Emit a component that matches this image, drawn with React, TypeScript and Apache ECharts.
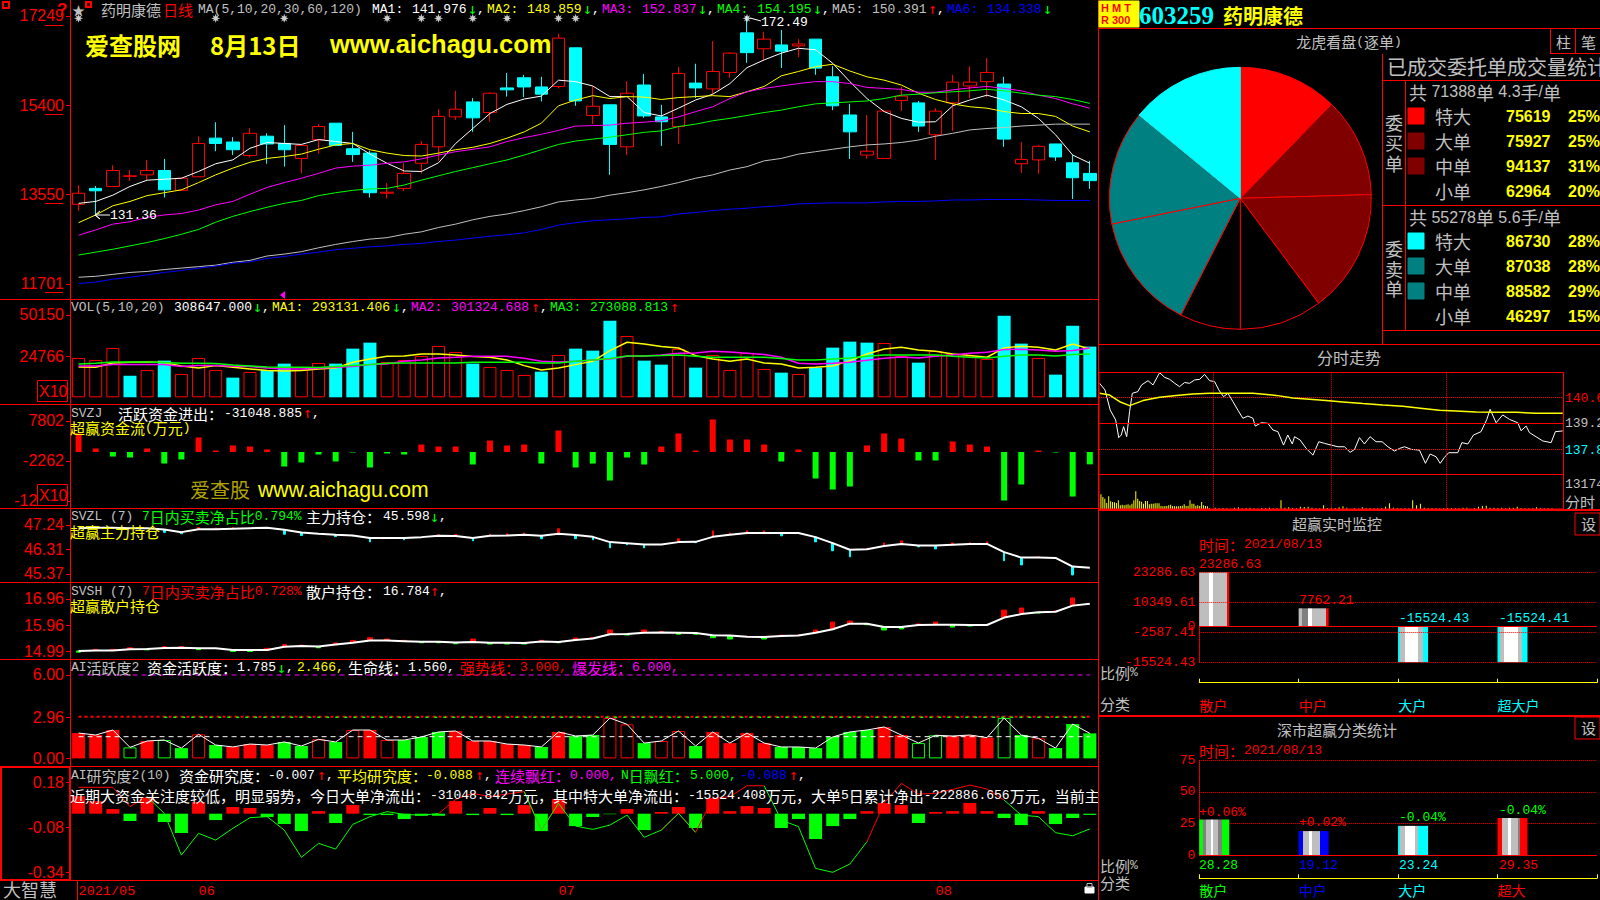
import React, { useEffect, useRef } from "react";
import * as echarts from "echarts";

const RED = "#ff0000", CYAN = "#00ffff", LIME = "#00ff00", YEL = "#ffff00", MAG = "#ff00ff", GRAY = "#c0c0c0", WHITE = "#ffffff", BLUE = "#0000ff";

const days = Array.from({ length: 60 }, (_, i) => String(i));
const monthAt: Record<number, string> = { 0: "2021/05", 7: "06", 28: "07", 50: "08" };

// open, close, low, high
const candles = [
  [133.5,135.8,132.1,137.5],[136.8,136.3,131.36,137.3],[137.2,140.5,137.2,141.6],[139.3,139.4,138.3,140.6],[139.6,140.5,138.4,142.7],
  [140.5,136.5,134.9,142.9],[136.4,138.9,136.4,138.9],[139.2,146.1,139.2,147.6],[147.2,146.1,144.5,150.5],[146.4,144.8,143.7,147.4],
  [143.6,148.2,143.2,149.3],[147.6,146,141.9,148.2],[146.1,144.8,141.3,149.9],[143,145.7,139.9,145.7],[146.9,149.6,144,150.1],
  [150.3,145.7,145.7,150.3],[145,143.8,142.3,148.5],[144.1,135.9,134.9,144.6],[135.8,136,134.7,137.9],[136.8,139.9,136.3,142],
  [142,145.9,139.9,146.6],[145.4,151.7,142.5,153.2],[151.6,153.2,151,157],[154.7,151.4,148.5,155.5],[152.5,156.5,150.6,156.7],
  [157.6,157.2,155.8,160.7],[159.7,157.8,155.7,160.3],[157.8,156.3,154.8,159.9],[157.9,167.9,157.5,168.8],[165.9,154.9,153.9,165.9],
  [151.9,153.8,150.1,158],[154.1,145.9,139.6,154.1],[145.4,156.5,143.7,159],[158.2,151.8,151.4,160.5],[151.6,150.6,145.6,154.1],
  [149.6,160.6,146,161.9],[158.6,157.6,155.5,162.6],[157.4,161,156.3,167.3],[160.8,164.8,159.7,165],[169,164.9,162.8,172.49],
  [165.7,167.7,163.4,169.2],[166.5,165.2,161.7,169.6],[166.3,166.7,164,167.7],[167.7,161.7,160.3,167.7],[159.9,153.9,153,162.1],
  [152,148.5,142.9,154.3],[143.7,144.5,142.9,152],[143,152.8,143,153],[155,155.9,152.8,157.8],[154.5,149.7,148.5,154.9],
  [147.9,152.8,142.7,153.4],[154.5,158.8,148.7,160.3],[158,158.8,155.5,162.1],[158.9,160.8,155.7,163.8],[158.4,147,145.4,159.9],
  [141.9,142.8,140,146.4],[142.7,145.5,139.8,145.8],[146,143.3,142.5,146],[142.1,139,134.6,143.7],[139.9,138.4,136.7,142.5],
];
const ma1 = [133.7,134.1,135.4,137.2,138.5,138.7,138.9,140.3,141.9,142.7,145.1,146.3,146.1,145.9,146.9,146.5,146.1,143.9,142,140.4,140.3,142.1,146.1,149.2,152.3,154.2,155.3,155.9,159.2,158.9,158,155.8,155.8,152.5,151.8,153.4,155.1,156.3,158.5,161.8,163.4,164.8,165.8,165.5,162.7,158.9,155.4,152.7,151.3,150.5,150.6,153.9,155.1,156.1,155.1,153.7,151.3,147.9,143.7,142];
const ma2 = [129.7,131.3,133.2,134.1,135.3,135.9,136.5,138,139.6,141,142.2,143,143.4,143.9,144.9,145.8,146.1,144.8,144.1,143.6,143.5,144.1,144.8,145.3,146.1,147.2,148.5,150.3,153.9,155.1,156,155.4,155.8,155.7,155.2,155.6,155.8,156,155.8,156.8,157.9,160.1,161,162,162.5,161.1,159.9,159.2,158.2,156.5,155.2,154.3,153.7,153.4,152.7,152.3,152.3,151.7,149.7,148.5];
const ma3 = [127.1,128.2,129.4,129.9,130.8,131.3,131.6,132.3,133.4,134.1,135.6,137,138,138.9,139.9,141,141.4,141.6,142,142.3,142.9,143.7,144.4,144.9,145.4,146.5,147.3,148,148.8,149.7,149.8,149.9,150.3,150.5,150.8,151.6,152.7,153.7,155.4,156.8,157.5,158,158.5,158.9,158.9,158.5,157.7,157.5,157.3,156.7,156.7,157.2,157.6,157.9,157.5,157,156.1,155.4,154.3,153.4];
const ma4 = [123,123.6,124.2,124.9,125.6,126.4,127.3,128.3,129.8,131,132,132.9,133.7,134.3,135.3,135.9,136.4,136.7,136.8,137.5,138.5,139.4,140.3,141.1,141.9,142.7,143.7,144.8,145.9,146.6,147,147.4,147.9,148.4,148.7,149.6,150.1,150.8,151.3,151.9,152.5,153,153.7,154.3,154.5,154.7,154.9,155.4,156.1,156.3,156.6,156.8,157,157.3,157,156.5,156.1,155.8,155.2,154.4];
const ma5 = [118.4,118.6,119,119.4,119.6,120,120.3,120.6,120.9,121.5,121.9,122.8,123.2,123.7,124.5,125.2,125.8,126.3,126.6,127.3,127.8,128.7,129.4,130.3,131,131.5,132.2,133,134,134.4,134.7,135.4,135.9,136.5,137.2,138,138.9,139.6,140.6,141.3,142.5,143,143.9,144.4,144.9,145.4,145.8,146,146.3,146.8,147.6,148.2,148.9,149.2,149.4,149.7,149.9,150.1,150.1,150.1];
const ma6 = [117.1,117.4,118,118.4,118.9,119.4,119.8,120.3,120.7,121.3,121.6,122.3,122.7,123.2,123.6,124.1,124.4,124.7,124.9,125.2,125.4,125.8,126.1,126.5,126.9,127.2,127.6,128.3,129.2,129.7,130.1,130.3,130.5,130.8,130.9,131.5,131.8,132.2,132.5,132.7,133,133.2,133.6,133.7,133.8,133.8,133.8,134,134.1,134.1,134.2,134.4,134.4,134.5,134.5,134.5,134.4,134.3,134.3,134.3];
const signalDays = [0, 8, 12, 18, 20, 21, 23, 25, 28, 29, 39];

const vol = [23942,22725,30029,13189,16638,22319,14203,23942,16638,11971,15420,16638,20493,16638,20899,20493,29623,33276,21507,22725,25160,31247,27594,20493,18464,16638,13594,15623,25768,29623,28406,46667,37334,22319,19884,29421,18058,25768,16638,26986,17247,15015,14203,18058,30232,33884,33276,33073,25160,21102,28203,26377,25160,23334,49711,32667,23942,13797,43624,30865];
const volKind = "rrrcrcrrrc" + "rccrrcccrr" + "rrrcrrrcrc" + "ccrccrcrrr" + "rcrccccrrc" + "rrrrccrccc";
const volMa1 = [18473,18270,20909,21315,21518,21112,19082,17864,19285,18270,17255,16240,16037,16240,17255,17864,21315,23345,24969,25172,26390,26390,25781,24766,24360,22736,19285,16646,17864,19894,21924,28420,33495,32480,30856,30044,25375,23345,21924,23345,20909,20300,17864,18270,19082,22330,26390,29435,30450,28826,28014,26390,25375,24360,30044,31059,30450,28826,32480,29435];
const volMa2 = [19082,19082,19894,19894,19894,19894,18676,19285,19285,18879,18676,17864,17255,17255,17661,18270,18676,19894,20300,21924,22736,23954,24360,24969,24969,24969,23751,21924,21518,21924,22736,23345,24969,25172,25781,26796,26999,28014,27608,26796,25984,24360,20706,20300,20706,21315,22533,23751,24563,23954,24969,25781,26796,27405,29029,29232,28826,28014,28420,30044];
const volMa3 = [20300,20706,21518,21518,21518,21112,20706,20706,20503,19691,19082,18473,18270,18270,18067,18676,19285,19894,20706,20909,20909,20909,20909,21315,21315,21315,21315,20909,20909,21924,22736,23548,25172,25172,25375,25781,24969,24360,24360,24360,24360,23548,22736,22736,23345,23954,24969,25781,25781,25781,25781,24969,24360,23954,24969,25781,25781,25172,25984,26390];

const flow = [4656,881,-1133,-1384,881,-2895,-1888,3650,378,1636,1384,629,-3650,-2643,-629,-2391,-126,-3901,-378,-629,1888,1384,1384,-3146,2895,1636,1888,-2895,5412,-3901,-2895,-7173,-1384,-3146,1384,4656,378,8180,3146,3146,1888,-2391,629,-6670,-9439,-8684,1636,4656,3398,-2139,-2139,2643,1888,1384,-12207,-8180,378,-126,-11201,-3105];

const svzl = [47.11,47.13,47.13,47.11,47.11,47.06,46.96,47.07,47.07,47.09,47.11,47.13,47.05,46.95,46.9,46.86,46.83,46.74,46.74,46.74,46.77,46.82,46.81,46.74,46.82,46.83,46.86,46.82,46.9,46.85,46.78,46.58,46.54,46.49,46.49,46.58,46.59,46.78,46.86,46.93,46.93,46.93,46.93,46.77,46.54,46.29,46.31,46.43,46.51,46.45,46.45,46.48,46.51,46.51,46.2,45.99,45.99,45.98,45.65,45.6];
const svzlTip = [null,null,null,null,null,46.95,46.9,47.14,47.11,47.13,null,null,46.88,46.83,null,46.79,46.81,46.59,46.76,46.67,null,46.86,46.87,46.63,46.88,46.9,46.93,46.71,47.09,46.71,46.67,46.36,46.48,46.36,null,46.71,46.56,47.01,46.93,47.01,47.01,46.82,null,46.59,46.25,46.02,46.35,46.55,46.63,46.4,46.32,46.55,46.56,46.59,45.87,45.71,46.02,null,45.33,null];
const svsh = [15,15.02,15.02,15.06,15.07,15.11,15.12,15.1,15.1,15.04,15.04,15.04,15.16,15.19,15.17,15.24,15.31,15.39,15.39,15.37,15.35,15.35,15.32,15.34,15.31,15.31,15.3,15.36,15.34,15.41,15.47,15.63,15.64,15.69,15.7,15.69,15.68,15.59,15.58,15.54,15.53,15.56,15.58,15.69,15.82,16.03,16.03,15.9,15.9,15.98,15.99,15.99,15.98,15.98,16.26,16.39,16.46,16.48,16.71,16.78];
const svshTip = [14.95,15.06,15.06,15.12,15.04,15.16,15.16,15.05,null,14.98,14.98,15.1,15.24,15.22,15.12,15.3,15.39,15.5,15.45,15.4,15.31,15.31,15.27,15.45,15.26,15.26,15.26,15.4,15.31,15.49,15.51,15.79,15.6,15.79,15.73,15.63,15.63,15.5,15.45,15.55,15.45,15.6,15.6,15.79,16.09,16.13,15.99,15.79,15.83,16.02,16.09,15.9,15.94,null,16.54,16.62,16.43,16.51,17,null];

const activity = [1.82,1.68,2.04,0.79,1.25,1.32,0.74,1.73,0.96,0.82,1.03,0.96,1.18,0.89,1.37,1.18,2.04,2.04,1.32,1.32,1.54,1.9,1.97,1.25,1.25,1.03,0.96,0.82,1.9,1.61,1.68,2.9,2.45,1.1,1.25,1.97,0.89,1.9,1.1,1.82,1.1,0.82,0.82,0.74,1.54,1.9,2.04,2.26,1.68,1.1,1.66,1.61,1.68,1.49,2.9,1.68,1.44,0.74,2.47,1.8];
const activityKind = "rrrGrGgRgr" + "rrggRgRrRg" + "ggrrrrrgrg" + "gRRgRRgrrr" + "rggggggrrG" + "GrrrGgRggg";

const research = [0.102,0.073,0.027,-0.043,0.091,-0.048,-0.112,0.068,-0.037,0.039,0.033,-0.019,-0.06,-0.101,0.015,-0.054,0.05,-0.008,-0.008,-0.031,-0.012,-0.012,0.073,-0.008,0.033,-0.008,0.05,-0.101,0.085,-0.072,-0.019,-0.003,0.027,-0.095,0.01,0.039,-0.083,0.091,0.015,0.044,0.033,-0.083,-0.031,-0.147,-0.072,-0.031,0.015,0.062,0.05,-0.054,0.01,0.015,0.062,0.015,-0.025,-0.066,0.015,-0.06,-0.025,-0.007];
const researchAvg = [0.153,0.153,0.153,0.041,0.099,0.002,-0.24,-0.114,-0.153,-0.085,-0.023,-0.017,-0.095,-0.253,-0.172,-0.205,-0.062,-0.017,0.012,-0.004,-0.008,0,0.083,0.118,0.099,0.114,0.128,-0.095,0.06,-0.072,-0.091,-0.066,-0.008,-0.137,-0.095,0.002,-0.108,0.089,0.099,0.162,0.162,-0.037,-0.075,-0.317,-0.34,-0.292,-0.162,0.06,0.176,0.114,0.118,0.141,0.166,0.143,0.079,-0.008,-0.017,-0.11,-0.128,-0.088];
// day ranges over which the average line is drawn red, and green
const researchRedRuns = [[0, 4], [21, 26], [27, 28], [34, 35], [36, 40], [46, 54]];
const researchGreenRuns = [[4, 21], [26, 27], [28, 34], [35, 36], [40, 46], [54, 59]];

const orderBuy = [75619, 75927, 94137, 62964];
const orderSell = [86730, 87038, 88582, 46297];
const orderPctBuy = ["25%", "25%", "31%", "20%"];
const orderPctSell = ["28%", "28%", "29%", "15%"];
const orderNames = ["特大", "大单", "中单", "小单"];

const timePrice = [[0.3,141.35],[3.1,140.99],[5.8,139.91],[8.6,139.38],[10.2,138.43],[11.5,138.57],[12.7,139.02],[14.3,138.48],[15.8,139.83],[17.2,140.81],[20,140.9],[22,141.26],[25.3,141.49],[27.9,141.26],[31.3,141.92],[33.9,141.67],[36.5,141.56],[39.1,141.35],[41.6,141.17],[44.2,141.39],[46.8,141.35],[49.4,141.53],[52,141.56],[54.5,141.83],[57.1,141.49],[59.7,141.44],[61.9,140.99],[64.3,140.63],[66.6,140.81],[69.2,140.36],[71.7,139.91],[74.3,139.47],[76.9,139.59],[79.5,139.47],[80.7,139.05],[83.8,139.23],[87.2,139.2],[89.8,138.84],[92.4,138.75],[95.3,138.03],[97.5,138.57],[99.8,138.09],[101,138.48],[103.9,138.3],[107,137.85],[110.5,137.49],[113.5,138.21],[116.5,138.12],[119.9,138.03],[123.4,137.94],[126.8,137.94],[129.7,137.64],[132,137.8],[134.5,138.43],[137.1,138.09],[140,138.48],[143.1,138.21],[146.2,138.21],[149.2,137.94],[152.6,137.71],[155.2,137.85],[157.8,137.94],[161.2,137.8],[165.5,137.76],[168.6,137.05],[171,137.55],[174.1,137.4],[176.2,137.05],[178.4,137.37],[180.6,137.62],[185.3,137.62],[187.4,138.16],[190.5,138.09],[193.4,138.57],[197.3,138.75],[200.3,139.41],[202,139.95],[205.1,139.23],[208.5,139.65],[212,139.41],[216.3,139.23],[218,138.8],[220.6,139.05],[222.3,138.7],[225.7,138.48],[229.2,138.25],[233.5,138.16],[235.7,138.75],[239.5,138.79]];
const timeAvg = [[0.3,140.81],[5.5,140.72],[10.7,140.36],[15.8,140.15],[22.7,140.42],[31.3,140.6],[39.9,140.69],[48.5,140.78],[57.1,140.81],[65.7,140.81],[79.5,140.81],[91.5,140.7],[100.1,140.56],[108.7,140.49],[117.3,140.42],[125.9,140.35],[136.3,140.26],[146.6,140.18],[156.9,140.11],[167.2,140],[175.8,139.9],[184.4,139.86],[194.8,139.81],[205.1,139.79],[215.4,139.79],[225.7,139.74],[239.5,139.74]];
const timeVolOpen = [7605,6253,5408,3211,6591,4056,3718,3549,3211,4563,2028,2366,2028,2366,2535,2028,2873,4563,9126,5408,4225,3887,2873,4225,4225,2535,2873,2873,3042,3042,3042,1690,1521,1690,1690,2028,2366,1690,1521,1521,1521,1690,1859,2535,1690,1859,4563,2873,2873,1859,2028,1690,3718,2028,1690,1521,676];
const timeVolLate = [845,507,676,507,338,845,1014,507,676,845,507,338,676,507,845,507,507,4563,845,1014,676,507,1352,1183,1352,845,507,507,2028,676,845,676,1014,1521,845,338,507,338,1014,507,676,507,507,676,1352,3042,845,507,507,507,507,4563,2028,2873,845,507,676,507,507,507,507,676,507,507,845,845,338,676,1352,1690,1859,845,845,676,845,507,845,845,1352,676,507,507,507,1014,507,507,507,507];

const monitorNames = ["散户", "中户", "大户", "超大户"];
const monitorVals = [23286.63, 7762.21, -15524.43, -15524.41];
const monitorTicks = [-15524.43, -2587.41, 0, 10349.61, 23286.63];
const statNames = ["散户", "中户", "大户", "超大"];
const statVals = [28.28, 19.12, 23.24, 29.35];
const statDelta = ["+0.06%", "+0.02%", "-0.04%", "-0.04%"];
const advice = "近期大资金关注度较低\uFF0C明显弱势\uFF0C今日大单净流出\uFF1A-31048.842万元\uFF0C其中特大单净流出\uFF1A-15524.408万元\uFF0C大单5日累计净出-222886.656万元\uFF0C当前主";

type TO = { cn?: number; mn?: number; mf?: string; cf?: string; bold?: boolean; align?: string };
const G: any[] = [];
function tx(x: number, y: number, s: string, color: string, o: TO = {}) {
  const cn = o.cn ?? 15, mn = o.mn ?? 13, mf = o.mf ?? "Liberation Mono", cf = o.cf ?? "Noto Sans CJK SC";
  const fw = o.bold ? "bold" : "normal";
  const runs = s.match(/[\x00-\x7f]+|[^\x00-\x7f]+/g) || [];
  const isM = (r: string) => /^[\x00-\x7f]/.test(r);
  let style: any;
  let px = x;
  if (s === "↓" || s === "↑") {
    style = { text: s, fill: color, fontFamily: "DejaVu Sans Mono", fontSize: 15 };
    px = x - 1;
  } else if (runs.length === 1) {
    style = { text: s, fill: color, fontFamily: isM(s) ? mf : cf, fontSize: isM(s) ? mn : cn, fontWeight: fw };
  } else {
    style = {
      text: runs.map((r) => `{${isM(r) ? "m" : "c"}|${r}}`).join(""),
      fill: color,
      rich: {
        m: { fontFamily: mf, fontSize: mn, fill: color, fontWeight: fw },
        c: { fontFamily: cf, fontSize: cn, fill: color, fontWeight: fw },
      },
    };
  }
  style.x = px; style.y = y; style.align = o.align ?? "left"; style.verticalAlign = "middle";
  G.push({ type: "text", z: 100, silent: true, style });
}
function ln(x1: number, y1: number, x2: number, y2: number, color = RED, w = 1, dash?: number[]) {
  G.push({ type: "line", z: 100, silent: true, shape: { x1, y1, x2, y2 }, style: { stroke: color, lineWidth: w, lineDash: dash } });
}
function box(x: number, y: number, w: number, h: number, stroke: any, fill: any = "transparent", lw = 1) {
  G.push({ type: "rect", z: 100, silent: true, shape: { x, y, width: w, height: h }, style: { stroke, fill, lineWidth: lw } });
}
const row = (y: number, items: [number, string, string][]) => items.forEach(([x, s, c]) => tx(x, y, s, c));

function stripes(list: [number, string][]) {
  const stops: any[] = [];
  let prev = 0;
  list.forEach(([end, color]) => {
    stops.push({ offset: prev, color }, { offset: end, color });
    prev = end;
  });
  return new echarts.graphic.LinearGradient(0, 0, 1, 0, stops);
}

function buildGraphics() {
  G.length = 0;
  // frame
  [299.5, 404.5, 508.5, 582.5, 659.5, 766.5, 880.5].forEach((y) => ln(0, y, 1098, y));
  ln(70.5, 0, 70.5, 880);
  ln(77.5, 880, 77.5, 900);
  box(1, 767, 69, 113, RED, "transparent", 2);
  [25.5, 114.5, 203.5, 292.5].forEach((y) => ln(45, y, 63, y));
  tx(3, 888.5, "大智慧", GRAY, { cn: 18 });
  // lock icon
  box(1085, 887, 9, 6, WHITE, WHITE);
  box(1087, 883.5, 5, 4, GRAY);

  // main header
  box(3, 2, 6, 6, RED, "transparent", 2);
  tx(57, 9, "?", RED, { mn: 17, mf: "Liberation Sans", bold: true });
  tx(72, 9, "★", GRAY, { cn: 13 });
  box(86, 2, 5, 5, RED, "#400000", 2);
  row(9, [
    [101, "药明康德", GRAY], [163, "日线", RED], [198, "MA(5,10,20,30,60,120)", GRAY],
    [372, "MA1:", WHITE], [412, "141.976", WHITE], [469, "↓", LIME], [477, ",", WHITE],
    [487, "MA2:", YEL], [527, "148.859", YEL], [584, "↓", LIME], [592, ",", WHITE],
    [602, "MA3:", MAG], [642, "152.837", MAG], [699, "↓", LIME], [707, ",", WHITE],
    [717, "MA4:", LIME], [757, "154.195", LIME], [814, "↓", LIME], [822, ",", WHITE],
    [832, "MA5:", GRAY], [872, "150.391", GRAY], [929, "↑", RED], [937, ",", WHITE],
    [947, "MA6:", BLUE], [987, "134.338", BLUE], [1044, "↓", LIME],
  ]);
  const big = { cn: 24, mn: 24, mf: "Noto Sans CJK SC", bold: true };
  tx(85, 44, "爱查股网", YEL, big);
  tx(210, 44, "8月13日", YEL, big);
  tx(330, 44, "www.aichagu.com", YEL, { ...big, mn: 25.5, mf: "Liberation Sans" });
  // high / low tags
  G.push({ type: "polyline", z: 100, silent: true, shape: { points: [[100, 211], [95, 215], [100, 219], [95, 215], [110, 215]] }, style: { stroke: WHITE, fill: "none", lineWidth: 1 } });
  tx(110, 215, "131.36", WHITE);
  G.push({ type: "polyline", z: 100, silent: true, shape: { points: [[750, 18], [761, 21]] }, style: { stroke: WHITE, fill: "none", lineWidth: 1 } });
  tx(761, 22, "172.49", WHITE);
  G.push({ type: "polygon", z: 100, silent: true, shape: { points: [[280, 295], [285, 291], [285, 299]] }, style: { fill: MAG } });

  // vol header
  row(307, [
    [71, "VOL(5,10,20)", GRAY], [174, "308647.000", WHITE], [254, "↓", LIME], [262, ",", WHITE],
    [272, "MA1:", YEL], [312, "293131.406", YEL], [393, "↓", LIME], [401, ",", WHITE],
    [411, "MA2:", MAG], [451, "301324.688", MAG], [532, "↑", RED], [540, ",", WHITE],
    [550, "MA3:", LIME], [590, "273088.813", LIME], [671, "↑", RED],
  ]);
  box(37.5, 380.5, 30, 21, RED, "#000");
  tx(39, 391, "X10", RED, { mn: 16, mf: "Liberation Sans" });
  box(37.5, 484.5, 30, 21, RED, "#000");
  tx(39, 495, "X10", RED, { mn: 16, mf: "Liberation Sans" });

  row(413, [[71, "SVZJ", GRAY], [118, "活跃资金进出\uFF1A", WHITE], [224, "-31048.885", WHITE], [304, "↑", RED], [312, ",", WHITE]]);
  tx(70, 427, "超赢资金流(万元)", YEL);
  tx(190, 489, "爱查股", "#b0a000", { cn: 20 });
  tx(258, 489, "www.aichagu.com", YEL, { mn: 21.2, mf: "Liberation Sans" });

  row(516.5, [[71, "SVZL (7)", GRAY], [142, "7日内买卖净占比0.794%", LIME], [306, "主力持仓\uFF1A", WHITE], [383, "45.598", WHITE], [431, "↓", LIME], [439, ",", WHITE]]);
  tx(70, 531, "超赢主力持仓", YEL);
  row(591, [[71, "SVSH (7)", GRAY], [142, "7日内买卖净占比0.728%", RED], [306, "散户持仓\uFF1A", WHITE], [383, "16.784", WHITE], [431, "↑", RED], [439, ",", WHITE]]);
  tx(70, 605.5, "超赢散户持仓", YEL);

  row(667.5, [
    [71, "AI活跃度2", GRAY], [147, "资金活跃度\uFF1A", WHITE], [237, "1.785", WHITE], [278, "↓", LIME], [286, ",", WHITE],
    [297, "2.466,", YEL], [348, "生命线\uFF1A", WHITE], [408, "1.560,", WHITE], [460, "强势线\uFF1A", RED], [520, "3.000,", RED],
    [572, "爆发线\uFF1A", MAG], [632, "6.000,", MAG],
  ]);
  row(775, [
    [71, "AI研究度2(10)", GRAY], [179, "资金研究度\uFF1A", WHITE], [268, "-0.007", WHITE], [318, "↑", RED], [326, ",", WHITE],
    [337, "平均研究度\uFF1A", YEL], [426, "-0.088", YEL], [476, "↑", RED], [484, ",", WHITE],
    [495, "连续飘红\uFF1A", MAG], [570, "0.000,", MAG], [621, "N日飘红\uFF1A", LIME], [690, "5.000,", LIME],
    [740, "-0.088", BLUE], [790, "↑", RED], [798, ",", WHITE],
  ]);
  tx(70, 795, advice, WHITE);
  // right panel covers the overflow of the long message
  G.push({ type: "rect", z: 100, silent: true, shape: { x: 1099, y: 786, width: 40, height: 18 }, style: { fill: "#000" } });
  ln(1098.5, 0, 1098.5, 900);
  tx(1100, 865, "比例%", GRAY);

  // title block
  box(1099, 1, 40, 26, YEL, YEL);
  tx(1101, 8, "H M T", RED, { mn: 11, mf: "Liberation Sans", bold: true });
  tx(1101, 20, "R 300", RED, { mn: 11, mf: "Liberation Sans", bold: true });
  tx(1139, 15, "603259", CYAN, { mn: 25, mf: "Liberation Serif", bold: true });
  tx(1223, 15, "药明康德", YEL, { cn: 20, bold: true });
  ln(1098, 28.5, 1600, 28.5);
  tx(1349, 41, "龙虎看盘(逐单)", GRAY, { align: "center" });
  ln(1550.5, 28, 1550.5, 53); ln(1575.5, 28, 1575.5, 53); ln(1550, 53.5, 1600, 53.5);
  tx(1556, 41, "柱", GRAY); tx(1581, 41, "笔", GRAY);

  // order table
  ln(1382.5, 54, 1382.5, 344);
  ln(1383, 80.5, 1600, 80.5); ln(1383, 205.5, 1600, 205.5); ln(1383, 330.5, 1600, 330.5);
  ln(1405.5, 80, 1405.5, 330);
  ln(1098, 344.5, 1600, 344.5);
  tx(1387, 66, "已成交委托单成交量统计", GRAY, { cn: 20 });
  const tableFont = { cn: 18, mn: 16, mf: "Liberation Sans" };
  tx(1409, 91.5, "共 71388单 4.3手/单", GRAY, tableFont);
  tx(1409, 217, "共 55278单 5.6手/单", GRAY, tableFont);
  [["委", 122], ["买", 142], ["单", 163], ["委", 248], ["卖", 269], ["单", 288]].forEach(([c, y]) => tx(1394, y as number, c as string, GRAY, { cn: 18, align: "center" }));
  const swatch = [[RED, "#800000", "#800000"], [CYAN, "#008080", "#008080"]];
  const rowsY = [[116, 141, 166, 191], [241, 266, 291, 316]];
  [orderBuy, orderSell].forEach((vals, g) => {
    vals.forEach((v, i) => {
      const y = rowsY[g][i];
      if (i < 3) box(1408, y - 8, 16, 16, swatch[g][i], swatch[g][i]);
      tx(1435, y, orderNames[i], GRAY, { cn: 18 });
      tx(1506, y, String(v), YEL, { mn: 16, mf: "Liberation Sans", bold: true });
      tx(1568, y, (g ? orderPctSell : orderPctBuy)[i], YEL, { mn: 16, mf: "Liberation Sans", bold: true });
    });
  });

  // intraday
  tx(1349, 357, "分时走势", GRAY, { align: "center", cn: 16 });
  box(1099, 372.5, 464.5, 136.5, RED);
  ln(1099, 474.5, 1564, 474.5);
  tx(1565, 398, "140.6", RED); tx(1565, 423, "139.2", GRAY); tx(1565, 450, "137.8", CYAN);
  tx(1565, 484, "13174", GRAY); tx(1565, 501, "分时", GRAY);
  ln(1098, 510, 1600, 510, RED, 2);

  // monitor
  tx(1337, 523, "超赢实时监控", GRAY, { align: "center" });
  tx(1199, 544, "时间\uFF1A2021/08/13", RED);
  box(1575, 513, 25, 22, RED); tx(1581, 523, "设", GRAY);
  tx(1199, 564, "23286.63", RED); tx(1299, 600, "7762.21", RED);
  tx(1399, 618, "-15524.43", CYAN); tx(1499, 618, "-15524.41", CYAN);
  tx(1100, 672, "比例%", GRAY); tx(1100, 703, "分类", GRAY);
  ln(1098, 716, 1600, 716, RED, 2);

  // stats
  tx(1337, 729, "深市超赢分类统计", GRAY, { align: "center" });
  tx(1199, 750, "时间\uFF1A2021/08/13", RED);
  box(1575, 717, 25, 22, RED); tx(1581, 727, "设", GRAY);
  const statLabelY = [812, 822.5, 817.5, 810];
  const statCol = [LIME, BLUE, CYAN, RED];
  statVals.forEach((v, i) => {
    tx(1199 + 100 * i, statLabelY[i], statDelta[i], i < 2 ? RED : LIME);
    tx(1199 + 100 * i, 865, v.toFixed(2), statCol[i]);
  });
  tx(1100, 882, "分类", GRAY);
  return G.slice();
}

function yAxis(gridIndex: number, min: number, max: number, vals: number[], fmt: (v: number) => string) {
  return {
    type: "value", gridIndex, min, max, position: "left",
    axisLine: { show: true, onZero: false, lineStyle: { color: RED } },
    axisTick: { show: true, length: 4, customValues: vals, lineStyle: { color: RED } },
    axisLabel: { show: true, customValues: vals, formatter: fmt, margin: 6, color: RED, fontFamily: "Liberation Sans", fontSize: 16, hideOverlap: false },
    splitLine: { show: false },
  };
}
const line = (name: string, xAxisIndex: number, data: any[], color: string, width = 1, extra: any = {}) => ({
  name, type: "line", xAxisIndex, yAxisIndex: xAxisIndex, data, symbol: "none", silent: true, z: 3,
  lineStyle: { color, width, ...(extra.lineStyle || {}) }, connectNulls: false,
});
const tipSeries = (idx: number, base: number[], tips: (number | null)[], width: number, up: string, down: string) => ({
  type: "candlestick", xAxisIndex: idx, yAxisIndex: idx, barWidth: width, silent: true, z: 2,
  data: base.map((v, i) => {
    const t = tips[i];
    return t == null ? ["-", "-", "-", "-"] : [v, t, Math.min(v, t), Math.max(v, t)];
  }),
  itemStyle: { color: up, color0: down, borderColor: up, borderColor0: down, borderWidth: 1 },
});
const inRuns = (runs: number[][]) => researchAvg.map((v, i) => (runs.some(([a, b]) => i >= a && i <= b) ? v : null));

export default function App() {
  const ref = useRef<HTMLDivElement>(null);
  useEffect(() => {
    document.body.style.margin = "0";
    document.body.style.background = "#000";
    const chart = echarts.init(ref.current!, undefined, { renderer: "svg" });

    const grids = [
      { top: 0, h: 299 }, { top: 299, h: 105.5 }, { top: 404.5, h: 104 }, { top: 508.5, h: 73.8 },
      { top: 582.3, h: 77.4 }, { top: 659.7, h: 107 }, { top: 766.7, h: 113.3 },
    ].map((g) => ({ left: 70, width: 1028.4, top: g.top, height: g.h }));
    grids.push(
      { left: 1099, width: 464.7, top: 372.3, height: 102 },
      { left: 1099, width: 464.7, top: 474.3, height: 35 },
      { left: 1199.3, width: 400.7, top: 572.3, height: 90 },
      { left: 1199.3, width: 400.7, top: 760.3, height: 95 },
    );

    const xAxes: any[] = grids.slice(0, 7).map((_, i) => ({
      type: "category", gridIndex: i, data: days, show: i === 6, boundaryGap: true,
      axisLine: { show: false }, axisTick: { show: false }, splitLine: { show: false },
      axisLabel: {
        show: i === 6, interval: (idx: number) => idx in monthAt, formatter: (_: string, idx: number) => monthAt[idx] || "",
        color: RED, fontFamily: "Liberation Mono", fontSize: 13.5, align: "left", margin: 4, hideOverlap: false,
      },
    }));
    [7, 8].forEach((i) => xAxes.push({ type: "value", gridIndex: i, min: 0, max: 240, show: false, splitLine: { show: false } }));
    const catAxis = (i: number, names: string[], color: any, offset: number, margin: number) => ({
      type: "value", gridIndex: i, min: 0, max: 4, interval: 1, position: "bottom", offset,
      axisLine: { show: true, onZero: false, lineStyle: { color: YEL } },
      axisTick: { show: true, inside: true, length: 4, lineStyle: { color: YEL } },
      splitLine: { show: false },
      axisLabel: {
        formatter: (v: number) => names[v] || "", color: (v: any) => color[Number(v)] || RED, margin, align: "left",
        fontFamily: "Noto Sans CJK SC", fontSize: 14, lineHeight: 14,
      },
    });
    xAxes.push(catAxis(9, monitorNames, [RED, RED, CYAN, CYAN], 20.4, 15));
    xAxes.push(catAxis(10, statNames, [LIME, BLUE, CYAN, RED], 23, 5));

    const f2 = (v: number) => v.toFixed(2);
    const rightLabel = { color: RED, fontFamily: "Liberation Mono", fontSize: 13, margin: 4, hideOverlap: false };
    const yAxes: any[] = [
      yAxis(0, 113.9, 175.8, [117.01, 135.5, 154, 172.49], (v) => String(Math.round(v * 100))),
      yAxis(1, -4382, 59836, [24766, 50150], (v) => String(v)),
      yAxis(2, -14215, 11951, [-12326, -2262, 7802], (v) => String(v)),
      yAxis(3, 45.05, 47.86, [45.37, 46.31, 47.24], f2),
      yAxis(4, 14.67, 17.59, [14.99, 15.96, 16.96], f2),
      yAxis(5, -0.6, 7.1, [0, 2.96, 6], f2),
      yAxis(6, -0.3845, 0.2726, [-0.34, -0.08, 0.18], f2),
      { type: "value", gridIndex: 7, min: 136.46, max: 141.94, show: false, splitLine: { show: false } },
      { type: "value", gridIndex: 8, min: 0, max: 17735, show: false, splitLine: { show: false } },
      {
        type: "value", gridIndex: 9, min: -15524.43, max: 23286.63, position: "left",
        axisLine: { show: true, onZero: false, lineStyle: { color: RED, type: "dotted" } }, axisTick: { show: false }, splitLine: { show: false },
        axisLabel: { ...rightLabel, customValues: monitorTicks, formatter: (v: number) => (v === 0 ? "0" : f2(v)) },
      },
      {
        type: "value", gridIndex: 10, min: 0, max: 75, interval: 25, position: "left",
        axisLine: { show: true, onZero: false, lineStyle: { color: RED, type: "dotted" } }, axisTick: { show: false },
        splitLine: { show: true, lineStyle: { color: RED, type: "dotted" } }, axisLabel: rightLabel,
      },
    ];

    const starSymbol = "path://M5 0 L6 3 L8.5 1.5 L7 4 L10 5 L7 6 L8.5 8.5 L6 7 L5 10 L4 7 L1.5 8.5 L3 6 L0 5 L3 4 L1.5 1.5 L4 3 Z";
    const series: any[] = [
      {
        type: "candlestick", xAxisIndex: 0, yAxisIndex: 0, data: candles, barWidth: 13, silent: true, z: 2,
        itemStyle: { color: "#000", color0: CYAN, borderColor: RED, borderColor0: CYAN, borderWidth: 1 },
      },
      line("MA1", 0, ma1, WHITE), line("MA2", 0, ma2, YEL), line("MA3", 0, ma3, MAG),
      line("MA4", 0, ma4, LIME), line("MA5", 0, ma5, GRAY), line("MA6", 0, ma6, BLUE),
      {
        type: "scatter", xAxisIndex: 0, yAxisIndex: 0, symbol: starSymbol, symbolSize: 9, silent: true, z: 4,
        data: signalDays.map((d) => [String(d), 172]), itemStyle: { color: WHITE },
      },
      {
        type: "bar", xAxisIndex: 1, yAxisIndex: 1, barWidth: 13, silent: true, z: 2,
        data: vol.map((v, i) => ({
          value: v,
          itemStyle: volKind[i] === "c" ? { color: CYAN } : { color: "transparent", borderColor: RED, borderWidth: 1 },
        })),
      },
      line("VMA1", 1, volMa1, YEL, 1.5), line("VMA2", 1, volMa2, MAG, 1.5), line("VMA3", 1, volMa3, LIME, 1.5),
      {
        type: "bar", xAxisIndex: 2, yAxisIndex: 2, barWidth: 6, silent: true, z: 2,
        data: flow.map((v) => ({ value: v, itemStyle: { color: v > 0 ? RED : LIME } })),
      },
      tipSeries(3, svzl, svzlTip, 2, RED, CYAN),
      line("SVZL", 3, svzl, WHITE, 2),
      tipSeries(4, svsh, svshTip, 5, RED, LIME),
      line("SVSH", 4, svsh, WHITE, 2),
      {
        type: "bar", xAxisIndex: 5, yAxisIndex: 5, barWidth: 13, silent: true, z: 2,
        data: activity.map((v, i) => {
          const k = activityKind[i];
          const col = k === "r" || k === "R" ? RED : LIME;
          return { value: v, itemStyle: k === "r" || k === "g" ? { color: col } : { color: "transparent", borderColor: col, borderWidth: 1 } };
        }),
      },
      line("活跃", 5, activity, WHITE),
      line("生命线", 5, days.map(() => 1.56), WHITE, 1, { lineStyle: { type: [5, 4] } }),
      line("强势线", 5, days.map(() => 3), RED, 2, { lineStyle: { type: [3, 3] } }),
      line("绿线", 5, days.map((_, i) => (i < 5 ? null : 2.96)), LIME, 1.5, { lineStyle: { type: [3, 6] } }),
      line("爆发线", 5, days.map(() => 6), MAG, 1, { lineStyle: { type: [5, 4] } }),
      {
        type: "bar", xAxisIndex: 6, yAxisIndex: 6, barWidth: 13, silent: true, z: 2,
        data: research.map((v) => ({ value: v, itemStyle: { color: v > 0 ? RED : LIME } })),
      },
      line("平均研究度红", 6, inRuns(researchRedRuns), RED),
      line("平均研究度绿", 6, inRuns(researchGreenRuns), LIME),
    ];
    series.push({
      type: "pie", center: [1240.3, 198.3], radius: 131, startAngle: 90, clockwise: true, silent: true, label: { show: false },
      labelLine: { show: false }, emphasis: { disabled: true }, z: 5, animation: false,
      data: [
        { value: orderBuy[0], color: RED }, { value: orderBuy[1], color: "#800000" }, { value: orderBuy[2], color: "#800000" }, { value: orderBuy[3], color: "#000" },
        { value: orderSell[3], color: "#000" }, { value: orderSell[2], color: "#008080" }, { value: orderSell[1], color: "#008080" }, { value: orderSell[0], color: CYAN },
      ].map((d) => ({ value: d.value, itemStyle: { color: d.color, borderColor: d.color === CYAN ? CYAN : RED, borderWidth: 1 } })),
    });
    const dot = { color: RED, type: "dotted" as const, width: 1 };
    series.push({
      type: "line", xAxisIndex: 7, yAxisIndex: 7, data: timePrice, symbol: "none", silent: true, z: 4, lineStyle: { color: WHITE, width: 1 },
      markLine: {
        silent: true, symbol: "none", label: { show: false }, animation: false,
        data: [
          { yAxis: 140.6, lineStyle: dot }, { yAxis: 137.8, lineStyle: dot }, { yAxis: 139.2, lineStyle: { color: RED, type: "solid", width: 1 } },
          { xAxis: 59.2, lineStyle: dot }, { xAxis: 119.7, lineStyle: dot }, { xAxis: 179.4, lineStyle: dot },
        ],
      },
    });
    series.push({ type: "line", xAxisIndex: 7, yAxisIndex: 7, data: timeAvg, symbol: "none", silent: true, z: 5, lineStyle: { color: YEL, width: 1.5 } });
    series.push({
      type: "bar", xAxisIndex: 8, yAxisIndex: 8, barWidth: 1, silent: true, z: 3, itemStyle: { color: YEL },
      data: [...timeVolOpen.map((v, i) => [i + 1, v]), ...timeVolLate.map((v, i) => [60 + 2 * i, v])],
      markLine: {
        silent: true, symbol: "none", label: { show: false }, animation: false,
        data: [{ xAxis: 59.2, lineStyle: dot }, { xAxis: 119.7, lineStyle: dot }, { xAxis: 179.4, lineStyle: dot }],
      },
    });
    const GREYS = "#bebebe";
    const monitorFill = [
      stripes([[0.31, GREYS], [0.45, WHITE], [0.93, GREYS], [1, RED]]),
      stripes([[0.1, GREYS], [0.31, "#808080"], [0.45, WHITE], [0.92, GREYS], [1, RED]]),
      stripes([[0.08, CYAN], [0.24, GREYS], [0.68, WHITE], [0.84, GREYS], [1, CYAN]]),
      stripes([[0.09, CYAN], [0.22, GREYS], [0.67, WHITE], [0.83, GREYS], [1, CYAN]]),
    ];
    series.push({
      type: "bar", xAxisIndex: 9, yAxisIndex: 9, barWidth: 30, silent: true, z: 3,
      data: monitorVals.map((v, i) => ({ value: [i + 0.15, v], itemStyle: { color: monitorFill[i] } })),
      markLine: {
        silent: true, symbol: "none", label: { show: false }, animation: false, lineStyle: dot,
        data: [
          { yAxis: monitorTicks[0] }, { yAxis: monitorTicks[1] }, { yAxis: monitorTicks[3] }, { yAxis: monitorTicks[4] },
          { yAxis: 0, lineStyle: { color: RED, type: "solid", width: 1 } },
        ],
      },
    });
    const statFill = [
      stripes([[0.13, LIME], [0.22, "#808080"], [0.38, GREYS], [0.46, WHITE], [0.62, GREYS], [0.75, "#808080"], [1, LIME]]),
      stripes([[0.16, BLUE], [0.34, GREYS], [0.43, WHITE], [0.72, GREYS], [1, BLUE]]),
      stripes([[0.08, CYAN], [0.22, GREYS], [0.56, WHITE], [0.67, GREYS], [1, CYAN]]),
      stripes([[0.16, RED], [0.34, GREYS], [0.45, WHITE], [0.67, GREYS], [0.74, "#808080"], [1, RED]]),
    ];
    series.push({
      type: "bar", xAxisIndex: 10, yAxisIndex: 10, barWidth: 30, silent: true, z: 3,
      data: statVals.map((v, i) => ({ value: [i + 0.15, v], itemStyle: { color: statFill[i] } })),
      markLine: {
        silent: true, symbol: "none", label: { show: false }, animation: false,
        data: [{ yAxis: 0, lineStyle: { color: RED, type: "solid", width: 1 } }],
      },
    });

    chart.setOption({
      animation: false,
      backgroundColor: "#000",
      grid: grids,
      xAxis: xAxes,
      yAxis: yAxes,
      series,
      graphic: { elements: buildGraphics() },
    });
    return () => chart.dispose();
  }, []);
  return <div ref={ref} style={{ width: 1600, height: 900, background: "#000" }} />;
}
